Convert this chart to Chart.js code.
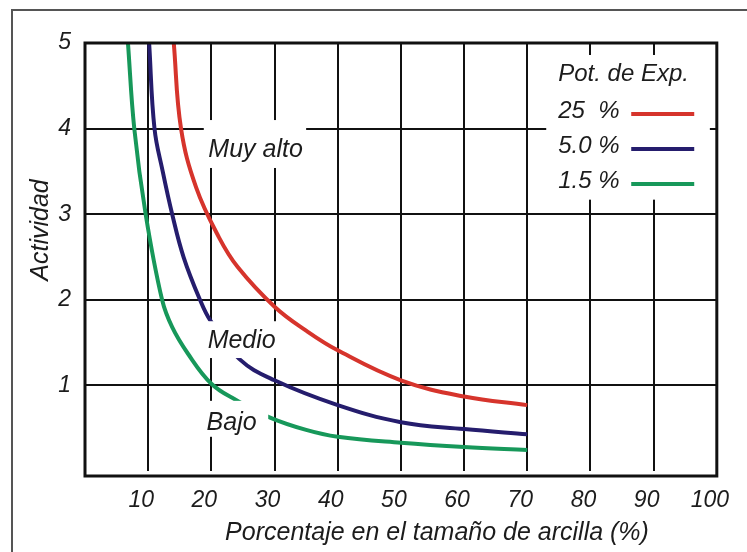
<!DOCTYPE html>
<html>
<head>
<meta charset="utf-8">
<script src="https://cdn.jsdelivr.net/npm/chart.js@4.4.0/dist/chart.umd.min.js"></script>
<style>
  html, body { margin: 0; padding: 0; background: #fff; }
  #wrap { width: 747px; height: 552px; }
</style>
</head>
<body>
<div id="wrap"><canvas id="myChart" width="747" height="552"></canvas></div>
<script>
// data
const seriesNames = ['25  %', '5.0 %', '1.5 %'];

const redX = [14.05, 15.2, 17.6, 21.2, 24.2, 30, 35, 40, 50, 60, 70];
const redY = [5, 4, 3.31, 2.73, 2.38, 1.92, 1.64, 1.41, 1.06, 0.87, 0.77];

const blueX = [10.15, 11.0, 12.3, 13.8, 15.6, 18.2, 19.9, 24.4, 30, 40, 50, 60, 70];
const blueY = [5, 4, 3.5, 3, 2.5, 2.0, 1.75, 1.31, 1.06, 0.77, 0.57, 0.49, 0.43];

const greenX = [6.8, 7.8, 9.6, 12.2, 13.8, 16.3, 20, 23.9, 29.1, 35, 40, 50, 60, 70];
const greenY = [5, 4, 3, 2, 1.68, 1.37, 1.02, 0.83, 0.63, 0.48, 0.40, 0.33, 0.28, 0.245];

const xTicks = [10, 20, 30, 40, 50, 60, 70, 80, 90, 100];
const yTicks = [1, 2, 3, 4, 5];

const zoneLabels = ['Muy alto', 'Medio', 'Bajo'];
const legendTitle = 'Pot. de Exp.';
const xTitle = 'Porcentaje en el tamaño de arcilla (%)';
const yTitle = 'Actividad';

const FONT = "'Liberation Sans', Arial, sans-serif";
const TXT = '#1c1c1c';
const tickFont = { family: FONT, size: 23, style: 'italic', lineHeight: 1.2 };

function pts(xs, ys) {
    return xs.map((x, i) => ({ x: x, y: ys[i] }));
}

// zone labels: text centre and white box, in data units
const zones = [
    { text: zoneLabels[0], x: 27.0, y: 3.75, box: [18.8, 35.0, 4.10, 3.54] },
    { text: zoneLabels[1], x: 24.8, y: 1.52, box: [19.2, 30.9, 1.75, 1.32] },
    { text: zoneLabels[2], x: 23.2, y: 0.56, box: [19.0, 29.0, 0.82, 0.40] }
];

const decor = {
    id: 'decor',
    beforeDraw(chart) {
        const c = chart.ctx;
        c.save();
        c.fillStyle = '#fff';
        c.fillRect(0, 0, chart.width, chart.height);
        // outer frame of the figure
        c.strokeStyle = '#555';
        c.lineWidth = 2;
        c.beginPath();
        c.moveTo(12, chart.height);
        c.lineTo(12, 10);
        c.lineTo(chart.width, 10);
        c.stroke();
        c.restore();
    },
    beforeDatasetsDraw(chart) {
        const c = chart.ctx, a = chart.chartArea;
        const xs = chart.scales.x, ys = chart.scales.y;
        c.save();
        c.strokeStyle = '#111';
        c.lineWidth = 2;
        xTicks.forEach(v => {
            if (v >= 100) return;
            const px = Math.round(xs.getPixelForValue(v));
            c.beginPath();
            c.moveTo(px, a.top);
            c.lineTo(px, ys.getPixelForValue(0));
            c.stroke();
        });
        c.restore();
    },
    afterDatasetsDraw(chart) {
        const c = chart.ctx, a = chart.chartArea;
        const xs = chart.scales.x, ys = chart.scales.y;
        c.save();
        c.textBaseline = 'middle';

        c.font = 'italic 25px ' + FONT;
        zones.forEach(z => {
            const x0 = xs.getPixelForValue(z.box[0]), x1 = xs.getPixelForValue(z.box[1]);
            const y0 = ys.getPixelForValue(z.box[2]), y1 = ys.getPixelForValue(z.box[3]);
            c.fillStyle = '#fff';
            c.fillRect(x0, y0, x1 - x0, y1 - y0);
            c.fillStyle = TXT;
            c.textAlign = 'center';
            c.fillText(z.text, xs.getPixelForValue(z.x), ys.getPixelForValue(z.y));
        });

        // legend
        c.font = 'italic 24px ' + FONT;
        const lx = xs.getPixelForValue(73.0), ly = ys.getPixelForValue(4.86);
        const lx1 = xs.getPixelForValue(98.9), ly1 = ys.getPixelForValue(3.17);
        c.fillStyle = '#fff';
        c.fillRect(lx, ly, lx1 - lx, ly1 - ly);
        c.fillStyle = TXT;
        c.textAlign = 'left';
        c.fillText(legendTitle, lx + 12, ly + 19);
        chart.data.datasets.forEach((ds, i) => {
            const ry = ly + 56 + i * 35;
            c.fillStyle = TXT;
            c.fillText(ds.label, lx + 12, ry);
            c.strokeStyle = ds.borderColor;
            c.lineWidth = 4;
            c.beginPath();
            c.moveTo(lx + 85, ry + 3);
            c.lineTo(lx + 148, ry + 3);
            c.stroke();
        });

        // plot border
        c.strokeStyle = '#111';
        c.lineWidth = 3;
        c.strokeRect(a.left, a.top, a.right - a.left, a.bottom - a.top);
        c.restore();
    },
    afterDraw(chart) {
        const c = chart.ctx;
        c.save();
        c.font = 'italic 25px ' + FONT;
        c.fillStyle = TXT;
        c.textAlign = 'center';
        c.textBaseline = 'middle';
        c.fillText(xTitle, 437, 533);
        c.translate(41, 230);
        c.rotate(-Math.PI / 2);
        c.fillText(yTitle, 0, 0);
        c.restore();
    }
};

const ctx = document.getElementById('myChart').getContext('2d');
const myChart = new Chart(ctx, {
    type: 'line',
    data: {
        datasets: [
            { label: seriesNames[0], data: pts(redX, redY), borderColor: '#d6342c' },
            { label: seriesNames[1], data: pts(blueX, blueY), borderColor: '#251d6d' },
            { label: seriesNames[2], data: pts(greenX, greenY), borderColor: '#17985a' }
        ]
    },
    options: {
        responsive: false,
        animation: false,
        layout: { padding: { left: 0, right: 25, top: 43, bottom: 0 } },
        elements: {
            line: { borderWidth: 4, tension: 0.4, fill: false },
            point: { radius: 0 }
        },
        plugins: {
            legend: { display: false },
            tooltip: { enabled: false }
        },
        scales: {
            x: {
                type: 'linear',
                min: 0,
                max: 100,
                afterBuildTicks: s => { s.ticks = xTicks.map(v => ({ value: v })); },
                afterFit: s => { s.height = 76; },
                grid: { display: false, drawTicks: false },
                border: { display: false },
                ticks: { font: tickFont, color: TXT, padding: 11, labelOffset: -7, maxRotation: 0, autoSkip: false }
            },
            y: {
                min: -0.058,
                max: 5,
                afterBuildTicks: s => { s.ticks = yTicks.map(v => ({ value: v })); },
                afterFit: s => { s.width = 85; },
                grid: { color: '#111', lineWidth: 2, drawTicks: false },
                border: { display: false },
                ticks: { font: tickFont, color: TXT, padding: 14 }
            }
        }
    },
    plugins: [decor]
});
</script>
</body>
</html>
